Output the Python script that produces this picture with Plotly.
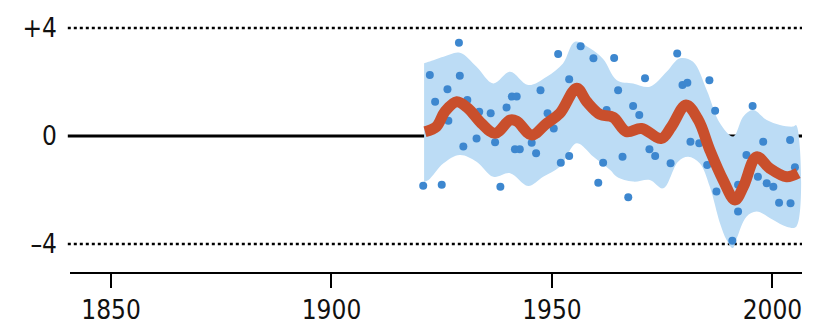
import plotly.graph_objects as go

# Scatter observations
obs_years = [1920.8, 1922.3, 1923.5, 1925.0, 1926.3, 1926.5, 1928.9, 1929.1, 1929.9, 1930.8,
             1932.9, 1933.5, 1936.1, 1937.1, 1938.3, 1939.7, 1940.9, 1941.6, 1942.0, 1942.7,
             1945.4, 1946.4, 1947.4, 1949.0, 1950.4, 1951.4, 1952.0, 1953.9, 1953.9, 1956.5,
             1959.4, 1960.5, 1961.6, 1962.4, 1964.1, 1965.0, 1966.0, 1967.3, 1968.4, 1969.8,
             1971.1, 1972.1, 1973.4, 1976.9, 1978.4, 1979.6, 1980.7, 1981.4, 1983.4, 1985.2,
             1985.7, 1987.0, 1987.3, 1990.9, 1992.2, 1992.2, 1994.1, 1995.5, 1996.7, 1997.9,
             1998.7, 2000.2, 2001.5, 2004.0, 2004.1, 2005.1]
obs_values = [-1.84, 2.26, 1.27, -1.81, 1.73, 0.57, 3.46, 2.23, -0.39, 1.33,
              -0.09, 0.90, 0.84, -0.23, -1.88, 1.06, 1.46, -0.49, 1.46, -0.49,
              -0.25, -0.64, 1.70, 0.84, 0.28, 3.04, -0.99, 2.10, -0.74, 3.33,
              2.88, -1.73, -0.99, 0.96, 2.89, 1.70, -0.77, -2.27, 1.11, 0.78,
              2.14, -0.49, -0.74, -1.01, 3.06, 1.89, 1.97, -0.21, -0.27, -1.07,
              2.07, 0.94, -2.06, -3.88, -1.81, -2.80, -0.70, 1.11, -1.51, -0.21,
              -1.75, -1.88, -2.47, -0.15, -2.49, -1.16]

# Smoothed curve
smooth_years = [1921.2, 1923.8, 1925.7, 1928.4, 1931.0, 1934.0, 1937.1, 1940.5, 1942.0, 1945.4,
                1948.8, 1951.8, 1955.6, 1957.9, 1960.9, 1963.9, 1966.9, 1970.3, 1974.8, 1977.1,
                1980.4, 1983.2, 1985.8, 1988.8, 1991.5, 1993.4, 1996.4, 1999.4, 2003.2, 2005.8]
smooth_values = [0.16, 0.35, 0.90, 1.27, 1.02, 0.47, 0.10, 0.59, 0.55, 0.04,
                 0.47, 0.84, 1.77, 1.27, 0.80, 0.69, 0.16, 0.28, -0.09, 0.35,
                 1.15, 0.59, -0.52, -1.63, -2.37, -1.88, -0.77, -1.20, -1.51, -1.38]

# Uncertainty band
upper_years = [1921.0, 1922.0, 1925.4, 1929.1, 1932.9, 1936.7, 1940.5, 1944.6, 1948.8, 1952.5,
               1955.2, 1958.6, 1961.6, 1964.7, 1968.4, 1972.2, 1976.0, 1979.0, 1982.0, 1985.1,
               1988.1, 1991.1, 1993.4, 1995.6, 1998.7, 2001.7, 2004.7, 2005.4]
upper_values = [2.70, 2.75, 2.94, 3.09, 2.57, 1.95, 2.38, 1.89, 2.20, 2.69,
                3.49, 3.25, 2.85, 2.07, 1.95, 1.83, 2.38, 2.88, 2.75, 1.70,
                0.47, -0.02, 0.72, 0.96, 0.59, 0.41, 0.35, 0.40]
lower_years = [1921.0, 1922.0, 1925.4, 1929.1, 1932.9, 1936.7, 1940.5, 1944.6, 1948.0, 1951.8,
               1955.6, 1959.4, 1963.2, 1964.7, 1968.4, 1972.2, 1975.2, 1978.6, 1980.9, 1983.5,
               1985.8, 1988.1, 1989.6, 1991.0, 1991.9, 1994.1, 1996.4, 2000.2, 2003.2, 2005.4]
lower_values = [-1.70, -1.63, -1.01, -0.70, -0.95, -1.51, -1.38, -1.85, -1.51, -1.14,
                -0.27, -0.77, -1.26, -1.51, -1.69, -1.63, -1.94, -0.95, -0.77, -1.01,
                -1.88, -3.23, -3.85, -4.15, -3.79, -2.99, -2.80, -3.11, -3.36, -3.36]

tick_years = [1850, 1900, 1950, 2000]
y_tick_vals = [4, 0, -4]
y_tick_text = ["+4", "0", "\u20134"]

BLUE = "#3d87cf"
BAND = "#bcdcf5"
RED = "#c94f2c"

fig = go.Figure()

band_x = upper_years + lower_years[::-1]
band_y = upper_values + lower_values[::-1]
fig.add_trace(go.Scatter(x=band_x, y=band_y, mode="lines", fill="toself",
                         fillcolor=BAND, line=dict(width=0, shape="spline", smoothing=1.0),
                         hoverinfo="skip", showlegend=False))

fig.add_trace(go.Scatter(x=obs_years, y=obs_values, mode="markers",
                         marker=dict(color=BLUE, size=8), showlegend=False))

fig.add_trace(go.Scatter(x=smooth_years, y=smooth_values, mode="lines",
                         line=dict(color=RED, width=11, shape="spline", smoothing=1.0),
                         showlegend=False))

# reference lines
for yv in (4, -4):
    fig.add_shape(type="line", xref="paper", x0=-0.003, x1=1, yref="y", y0=yv, y1=yv,
                  line=dict(color="black", width=2.5, dash="dot"), layer="below")
fig.add_shape(type="line", xref="paper", x0=-0.003, x1=1, yref="y", y0=0, y1=0,
              line=dict(color="black", width=3), layer="below")

FONT = "Liberation Sans Narrow, DejaVu Sans Condensed, Arial Narrow, sans-serif"

fig.update_layout(
    width=817, height=326,
    margin=dict(l=70, r=15, t=10, b=54),
    plot_bgcolor="white", paper_bgcolor="white",
    font=dict(family=FONT, size=26, color="#111"),
    xaxis=dict(range=[1840.7, 2006.7], tickvals=tick_years, showgrid=False, zeroline=False,
               showline=True, linecolor="black", linewidth=2, ticks="outside", ticklen=14,
               tickwidth=2, tickcolor="black", tickfont=dict(size=26), automargin=False),
    yaxis=dict(range=[-5.04, 4.67], tickvals=y_tick_vals, ticktext=y_tick_text,
               showgrid=False, zeroline=False, showline=False, ticks="",
               ticklabelstandoff=12, tickfont=dict(size=26), automargin=False),
)

fig.write_html("out.html", config={"displayModeBar": False},
               post_script="document.body.style.margin='0';document.body.style.overflow='hidden';")
